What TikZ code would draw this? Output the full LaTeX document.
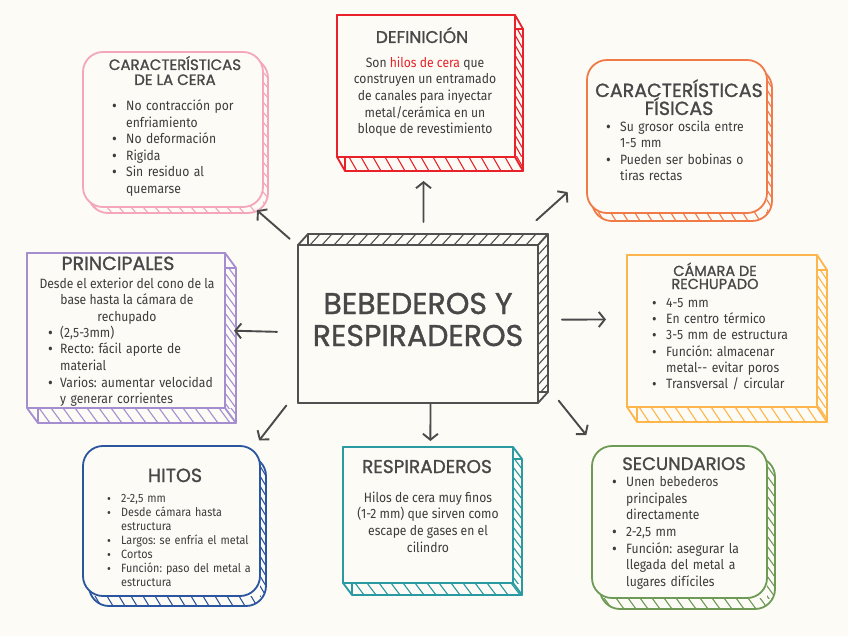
\documentclass[tikz,border=0pt]{standalone}
\usepackage{fontspec}
\setmainfont[FakeStretch=0.9]{Fira Sans}
\newfontfamily\hdrfont[FakeBold=1.2]{Poppins}
\usetikzlibrary{arrows.meta, positioning, calc}
\definecolor{bgc}{HTML}{FCFBF6}
\definecolor{txtc}{HTML}{3C3C3C}
\definecolor{hdrc}{HTML}{484848}
\definecolor{arrc}{HTML}{4A4A4A}
\definecolor{defc}{HTML}{E8212B}
\definecolor{cerc}{HTML}{F5A6BA}
\definecolor{fisc}{HTML}{F07A48}
\definecolor{camc}{HTML}{FDB64C}
\definecolor{prc}{HTML}{A58ED0}
\definecolor{hitc}{HTML}{2B559E}
\definecolor{resc}{HTML}{2A9AA2}
\definecolor{secc}{HTML}{6E9A55}
\definecolor{cenc}{HTML}{505050}

\newlength\bulw
\setlength\bulw{14pt}
\newcommand\bulsc{1.2}
\newcommand\itm[1]{\noindent\hangindent=\bulw\hangafter=1%
  \makebox[\bulw][l]{\smash{\raisebox{-0.08em}{\scalebox{\bulsc}{\textbullet}}}}#1\strut\par}
\newcommand\bodyfs{\fontsize{13.5}{16.6}\selectfont\frenchspacing}

% 3d slab: [corner radius]{node}{colour}{dx}{dy}{north/south strip}
\newcommand\slab[6][0]{%
  \begin{scope}
    \clip[rounded corners=#1pt] ($(#2.north west)+(#4,#5)$) rectangle ($(#2.south east)+(#4,#5)$);
    \begin{scope}
      \clip (#2.#6 west) rectangle ($(#2.#6 east)+(#4,#5)$);
      \foreach \k in {-2,...,24}
        \draw[#3, hatch] ($(#2.#6 west)+(\k*12,0)$) ++({-1*(#4)},{-1*(#5)}) -- ++({3*(#4)},{3*(#5)});
    \end{scope}
    \begin{scope}
      \clip (#2.north east) rectangle ($(#2.south east)+(#4,0)$);
      \foreach \k in {-2,...,18}
        \draw[#3, hatch] ($(#2.north east)+(0,\k*10)$) ++({-1*(#4)},{-1*(#5)}) -- ++({3*(#4)},{3*(#5)});
    \end{scope}
  \end{scope}
  \ifdim#1pt=0pt
    \foreach \c in {north west,north east,south east,south west}
      \draw[#3, rim] (#2.\c) -- ++(#4,#5);
  \fi
  \draw[#3, rim, rounded corners=#1pt] ($(#2.north west)+(#4,#5)$) rectangle ($(#2.south east)+(#4,#5)$);
  \draw[#3, rim, fill=bgc, rounded corners=#1pt] (#2.north west) rectangle (#2.south east);
}

\begin{document}
\begin{tikzpicture}[x=1pt, y=-1pt,
    frame/.style={inner sep=0pt, outer sep=0pt},
    rim/.style={line width=1.8pt, line join=round, line cap=round},
    hatch/.style={line width=1.1pt},
    arr/.style={-{Straight Barb[length=6pt, width=15pt]}, draw=arrc,
      line width=1.9pt, line cap=round},
    hdr/.style={text=hdrc, inner sep=0pt, anchor=base},
    body/.style={text=txtc, inner sep=0pt, align=left, font=\bodyfs}]
  \fill[bgc] (0,0) rectangle (848,636);
  \useasboundingbox (0,0) rectangle (848,636);

  % frames
  \node[frame, minimum width=240pt, minimum height=158pt] (centre) at (418,324) {};
  \node[frame, minimum width=178pt, minimum height=142pt] (defin) at (426,86) {};
  \node[frame, minimum width=180pt, minimum height=155pt] (cera) at (173,129.5) {};
  \node[frame, minimum width=180pt, minimum height=153pt] (fisicas) at (677,136.5) {};
  \node[frame, minimum width=190pt, minimum height=152pt] (camara) at (722,331) {};
  \node[frame, minimum width=198pt, minimum height=155pt] (princip) at (126,330.5) {};
  \node[frame, minimum width=177pt, minimum height=150pt] (hitos) at (171.5,521) {};
  \node[frame, minimum width=170pt, minimum height=136pt] (respir) at (428,515) {};
  \node[frame, minimum width=175pt, minimum height=152pt] (secund) at (679.5,522) {};

  \slab{centre}{cenc}{10}{-11}{north}
  \slab{defin}{defc}{8}{14}{south}
  \slab[20]{cera}{cerc}{5}{6}{south}
  \slab[20]{fisicas}{fisc}{5}{8}{south}
  \slab{camara}{camc}{10}{15}{south}
  \slab{princip}{prc}{11}{15}{south}
  \slab[20]{hitos}{hitc}{6}{10}{south}
  \slab{respir}{resc}{9}{12}{south}
  \slab[20]{secund}{secc}{8}{11}{south}

  % titles
  \node[hdr, font=\hdrfont\fontsize{30}{32}\selectfont] (centretita) at (418,314) {BEBEDEROS Y};
  \node[hdr, font=\hdrfont\fontsize{30}{32}\selectfont] (centretitb) at (418,346) {RESPIRADEROS};
  \node[hdr, font=\hdrfont\fontsize{17}{17}\selectfont] (defintit) at (422,43) {DEFINICIÓN};
  \node[hdr, font=\hdrfont\fontsize{15}{15}\selectfont] (ceratita) at (175,70) {CARACTERÍSTICAS};
  \node[hdr, font=\hdrfont\fontsize{15}{15}\selectfont] (ceratitb) at (175,85) {DE LA CERA};
  \node[hdr, font=\hdrfont\fontsize{19}{19}\selectfont] (fisicastita) at (679,97) {CARACTERÍSTICAS};
  \node[hdr, font=\hdrfont\fontsize{19}{19}\selectfont] (fisicastitb) at (679,115) {FÍSICAS};
  \node[hdr, font=\hdrfont\fontsize{14.5}{14.5}\selectfont] (camaratita) at (715,276) {CÁMARA DE};
  \node[hdr, font=\hdrfont\fontsize{14.5}{14.5}\selectfont] (camaratitb) at (715,289) {RECHUPADO};
  \node[hdr, font=\hdrfont\fontsize{19}{19}\selectfont] (principtit) at (118,270) {PRINCIPALES};
  \node[hdr, font=\hdrfont\fontsize{19}{19}\selectfont] (hitostit) at (175,482) {HITOS};
  \node[hdr, font=\hdrfont\fontsize{18.5}{18.5}\selectfont] (respirtit) at (427,473) {RESPIRADEROS};
  \node[hdr, font=\hdrfont\fontsize{18}{18}\selectfont] (secundtit) at (684,470) {SECUNDARIOS};

  % texts
  \node[body, align=center, anchor=north] (defintxt) at (425,55.4)
    {\strut Son \textcolor{defc}{hilos de cera} que\\construyen un entramado\\de canales para inyectar\\metal/cerámica en un\\bloque de revestimiento};
  \node[body, text width=150pt, anchor=north west] (ceralist) at (112,99.4)
    {\itm{No contracción por\newline enfriamiento}\itm{No deformación}\itm{Rigida}%
     \itm{Sin residuo al\newline quemarse}};
  \node[body, text width=155pt, anchor=north west] (fisicaslist) at (606,120.4)
    {\itm{Su grosor oscila entre\newline 1-5 mm}\itm{Pueden ser bobinas o\newline tiras rectas}};
  \node[body, text width=160pt, anchor=north west, font=\fontsize{13.5}{16.3}\selectfont\frenchspacing] (camaralist) at (652,295.6)
    {\renewcommand\bulsc{1.15}\itm{4-5 mm}\itm{En centro térmico}\itm{3-5 mm de estructura}%
     \itm{Función: almacenar\newline metal-{}- evitar poros}\itm{Transversal / circular}};
  \node[body, align=center, anchor=north] (principtxt) at (127,276.4)
    {\strut Desde el exterior del cono de la\\base hasta la cámara de\\rechupado};
  \node[body, text width=175pt, anchor=north west] (principlist) at (48,325.4)
    {\setlength\bulw{12pt}\itm{(2,5-3mm)}\itm{Recto: fácil aporte de\newline material}%
     \itm{Varios: aumentar velocidad\newline y generar corrientes}};
  \node[body, text width=150pt, anchor=north west, font=\fontsize{12}{14}\selectfont\frenchspacing] (hitoslist) at (107,492.2)
    {\renewcommand\bulsc{1.1}\itm{2-2,5 mm}\itm{Desde cámara hasta\newline estructura}\itm{Largos: se enfría el metal}%
     \itm{Cortos}\itm{Función: paso del metal a\newline estructura}};
  \node[body, align=center, anchor=north] (respirtxt) at (428,490.4)
    {\strut Hilos de cera muy finos\\(1-2 mm) que sirven como\\escape de gases en el\\cilindro};
  \node[body, text width=150pt, anchor=north west] (secundlist) at (612,476.4)
    {\itm{Unen bebederos\newline principales\newline directamente}\itm{2-2,5 mm}%
     \itm{Función: asegurar la\newline llegada del metal a\newline lugares difíciles}};

  % arrows
  \draw[arr, shorten <=23pt, shorten >=24pt] (centre.86) -- (defin.268);
  \draw[arr, shorten <=37pt, shorten >=26pt] (centre.41) -- (fisicas.203);
  \draw[arr, shorten <=11pt, shorten >=5pt] (centre.147) -- (cera.316);
  \draw[arr, shorten <=24pt, shorten >=21pt] (centre.2) -- (camara.173);
  \draw[arr, shorten <=21pt, shorten >=9pt] (centre.184) -- (princip.0);
  \draw[arr, shorten <=19pt, shorten >=7pt] (centre.209) -- (hitos.42);
  \draw[arr, shorten <=1pt, shorten >=6pt] (centre.279) -- (respir.88);
  \draw[arr, shorten <=33pt, shorten >=14pt] (centre.337) -- (secund.138);
\end{tikzpicture}
\end{document}
